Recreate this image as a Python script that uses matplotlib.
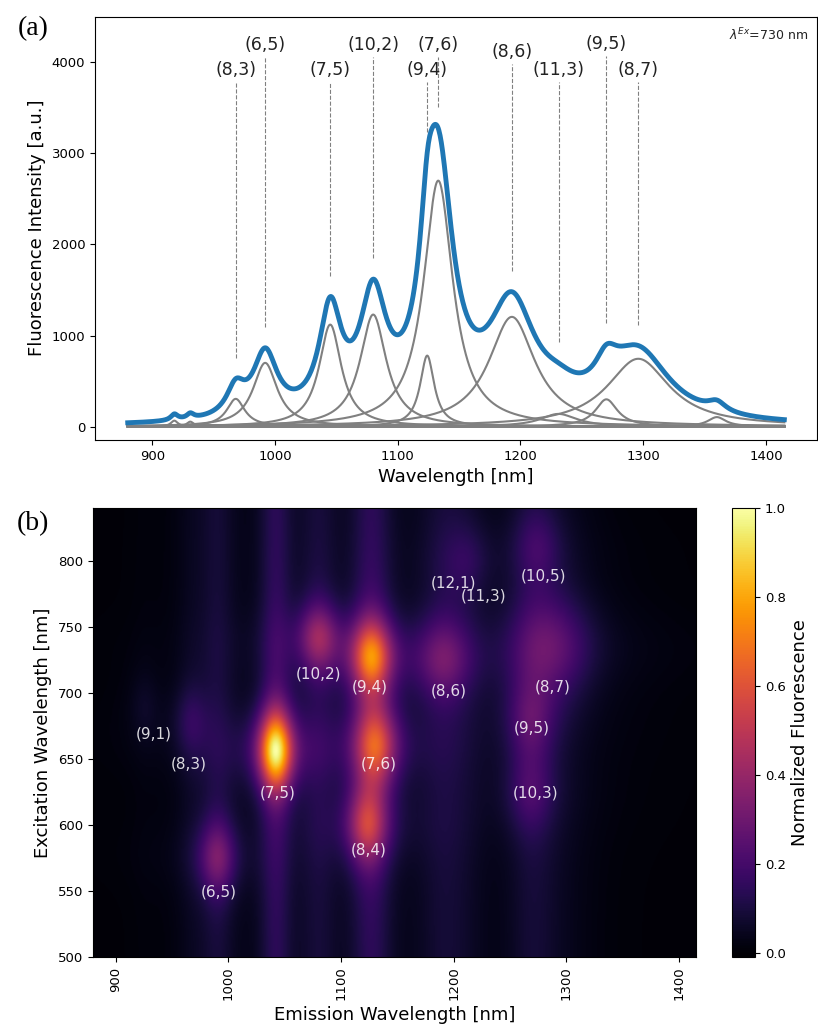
import numpy as np
import matplotlib
matplotlib.use('Agg')
import matplotlib.pyplot as plt

# --- panel (a): fitted emission peaks at 730 nm excitation ---
peak_center = [918, 931, 968, 992, 1045, 1080, 1124, 1133, 1193, 1231, 1270, 1296, 1360]
peak_amp = [66, 55, 305, 700, 1120, 1230, 780, 2700, 1205, 140, 300, 745, 105]
peak_hwhm = [3.5, 3.5, 9, 12, 11, 13, 7, 14.5, 23, 18, 11, 31, 9]

label_text = ['(8,3)', '(6,5)', '(7,5)', '(10,2)', '(9,4)', '(7,6)', '(8,6)', '(11,3)', '(9,5)', '(8,7)']
label_pos = [968, 992, 1045, 1080, 1124, 1133, 1193, 1231, 1270, 1296]
label_height = [3810, 4090, 3810, 4090, 3810, 4090, 4010, 3810, 4100, 3810]

# --- panel (b): PLE map species (emission, em width, excitation, ex width, amp, streak) ---
ple_em = [925, 967, 990, 1042, 1080, 1127, 1131, 1123, 1191, 1212, 1268, 1268, 1287, 1275]
ple_em_w = [9, 10, 11, 10, 12, 12, 13, 12, 16, 14, 14, 14, 24, 14]
ple_ex = [690, 678, 575, 656, 742, 727, 660, 600, 725, 800, 680, 625, 735, 810]
ple_ex_w = [20, 20, 20, 21, 18, 20, 22, 21, 22, 20, 22, 22, 28, 20]
ple_amp = [0.05, 0.12, 0.30, 1.0, 0.36, 0.70, 0.58, 0.49, 0.24, 0.10, 0.19, 0.15, 0.25, 0.12]
ple_streak = [0.1, 0.25, 0.28, 0.14, 0.22, 0.08, 0.08, 0.08, 0.32, 0.25, 0.13, 0.13, 0.16, 0.12]

map_text = ['(9,1)', '(8,3)', '(7,5)', '(10,2)', '(9,4)', '(7,6)', '(8,4)', '(6,5)',
            '(12,1)', '(11,3)', '(10,5)', '(8,6)', '(8,7)', '(9,5)', '(10,3)']
map_x = [934, 965, 1044, 1080, 1126, 1134, 1125, 992, 1200, 1227, 1280, 1196, 1288, 1269, 1273]
map_y = [669, 646, 624, 714, 704, 646, 581, 549, 783, 773, 788, 701, 704, 673, 624]


def lorentz(x, c, g):
    return 1.0 / (1.0 + ((x - c) / g) ** 2)


def pvoigt(x, c, w, eta=0.25, lw=1.2):
    return (1 - eta) * np.exp(-0.5 * ((x - c) / w) ** 2) + eta * lorentz(x, c, lw * w)


wl = np.arange(880, 1415.5, 0.5)
comps = [a * lorentz(wl, c, g) for c, a, g in zip(peak_center, peak_amp, peak_hwhm)]
total = np.sum(comps, axis=0)

fig = plt.figure(figsize=(8.18, 10.35), dpi=100)

ax = fig.add_axes([0.116, 0.575, 0.883, 0.409])
for comp in comps:
    ax.plot(wl, comp, color='gray', lw=1.5)
ax.plot(wl, total, color='#1f77b4', lw=3.5)
for t, x, h in zip(label_text, label_pos, label_height):
    y0 = np.interp(x, wl, total) + 230
    ax.plot([x, x], [y0, h - 30], color='gray', lw=0.8, ls='--')
    ax.text(x, h, t, ha='center', va='bottom', fontsize=12.5, color='#222222')
ax.text(0.988, 0.975, r'$\lambda^{Ex}$=730 nm', transform=ax.transAxes,
        ha='right', va='top', fontsize=9, color='#222222')
ax.set_ylim(-145, 4500)
ax.set_yticks([0, 1000, 2000, 3000, 4000])
ax.set_xticks([900, 1000, 1100, 1200, 1300, 1400])
ax.tick_params(labelsize=9.5)
ax.set_xlabel('Wavelength [nm]', fontsize=13)
ax.set_ylabel('Fluorescence Intensity [a.u.]', fontsize=13)

# PLE map
em = np.linspace(880, 1415, 536)
ex = np.linspace(500, 840, 341)
EM, EX = np.meshgrid(em, ex)
Z = np.zeros_like(EM)
for c, gw, e, ew, a, b in zip(ple_em, ple_em_w, ple_ex, ple_ex_w, ple_amp, ple_streak):
    Z += a * pvoigt(EM, c, gw, 0.45, 1.6) * (pvoigt(EX, e, ew) + b)
Z = Z / Z.max()

ax2 = fig.add_axes([0.1137, 0.0754, 0.737, 0.434])
im = ax2.imshow(Z, origin='lower', extent=[880, 1415, 500, 840], aspect='auto',
                cmap='inferno', vmin=-0.01, vmax=1.0, interpolation='bilinear')
for t, x, y in zip(map_text, map_x, map_y):
    ax2.text(x, y, t, ha='center', va='center', fontsize=11, color='white', alpha=0.85)
ax2.set_xticks([900, 1000, 1100, 1200, 1300, 1400])
ax2.set_yticks([500, 550, 600, 650, 700, 750, 800])
ax2.tick_params(labelsize=9.5)
ax2.tick_params(axis='x', labelrotation=90)
ax2.set_xlabel('Emission Wavelength [nm]', fontsize=13)
ax2.set_ylabel('Excitation Wavelength [nm]', fontsize=13)

cax = fig.add_axes([0.895, 0.0754, 0.028, 0.4338])
cb = fig.colorbar(im, cax=cax)
cb.set_ticks([0.0, 0.2, 0.4, 0.6, 0.8, 1.0])
cb.ax.tick_params(labelsize=9.5)
cb.set_label('Normalized Fluorescence', fontsize=13)

fig.text(0.022, 0.972, '(a)', family='Liberation Serif', fontsize=20, va='center')
fig.text(0.020, 0.494, '(b)', family='Liberation Serif', fontsize=20, va='center')

fig.savefig('out.png', dpi=100)
